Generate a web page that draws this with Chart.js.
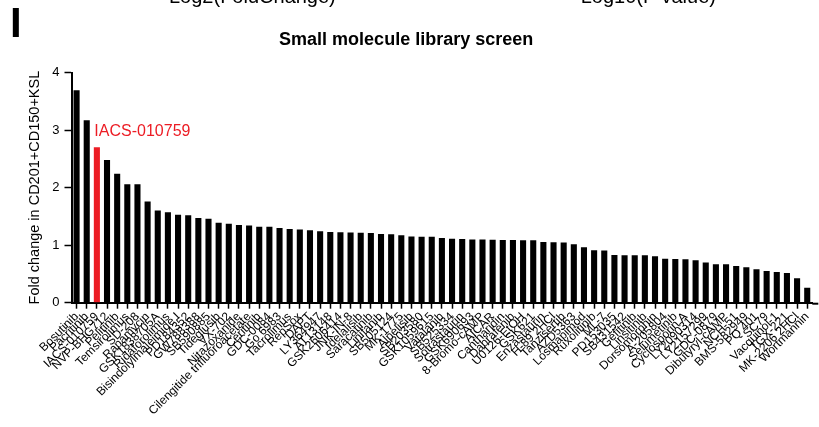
<!DOCTYPE html>
<html>
<head>
<meta charset="utf-8">
<script src="https://cdn.jsdelivr.net/npm/chart.js"></script>
<style>
  body { margin: 0; background: #fff; font-family: "Liberation Sans", Arial, sans-serif; }
  #wrap { position: relative; width: 819px; height: 427px; overflow: hidden; }
  .cut { position: absolute; top: -14px; font-size: 20px; line-height: 20px; color: #000; white-space: nowrap; }
  #panel { position: absolute; left: 10px; top: 0px; font-size: 42px; line-height: 46px; font-weight: bold; }
</style>
</head>
<body>
<div id="wrap">
  <div class="cut" style="left:169px">Log2(FoldChange)</div>
  <div class="cut" style="left:569px">−Log10(P value)</div>
  <div id="panel">I</div>
  <canvas id="screen"></canvas>
</div>
<script>
// compuestos ordenados por fold change
const compuestos = [
  "Bosutinib", "Pacritinib", "IACS-010759", "NVP-BHG712", "Pelitinib",
  "Temsirolimus", "SD-208", "Rapamycin", "GSK1838705A", "Ridaforolimus",
  "Bisindolylmaleimide I", "PD184352", "GW788388", "SB590885", "Tideglusib",
  "VX-702", "Nitazoxanide", "Cilengitide trifluoroacetate", "Ceritinib", "GDC-0084",
  "Go 6983", "Tacrolimus", "RepSox", "DAPT", "LY364947",
  "AT13148", "GSK2606414", "JNK-IN-8", "Idelalisib", "Saracatinib",
  "Linifanib", "SB505124", "MK-1775", "Alpelisib", "SB203580",
  "GSK1059615", "Vatalanib", "SB525334", "Sotrastaurin", "GSK690693",
  "8-Bromo-cAMP", "AICAR", "Cantharidin", "Dabrafenib", "U0126-EtOH",
  "GSK621", "Enzastaurin", "H-89 2HCl", "Tanzisertib", "AZD5363",
  "Losmapimod", "Ruxolitinib", "ML-7", "PD153035", "SB431542",
  "Gefitinib", "Linsitinib", "Dorsomorphin", "A-205804", "Selumetinib",
  "Cyclosporin A", "LY2090314", "LY2157299", "GDC-0879", "Dibutyryl-cAMP",
  "NCH-51", "BMS-582949", "PQ 401", "SC79", "Vacquinol-1",
  "TGX-221", "MK-2206 2HCl", "Wortmannin"
];

const foldChange = [
  3.69, 3.17, 2.70, 2.48, 2.24, 2.06, 2.06, 1.76, 1.60, 1.57,
  1.53, 1.52, 1.47, 1.46, 1.39, 1.37, 1.35, 1.34, 1.32, 1.32,
  1.30, 1.28, 1.27, 1.26, 1.24, 1.23, 1.225, 1.22, 1.215, 1.21,
  1.195, 1.19, 1.17, 1.15, 1.145, 1.145, 1.125, 1.11, 1.105, 1.10,
  1.10, 1.095, 1.09, 1.09, 1.085, 1.085, 1.055, 1.05, 1.045, 1.015,
  0.963, 0.91, 0.905, 0.83, 0.825, 0.825, 0.825, 0.807, 0.765, 0.76,
  0.755, 0.737, 0.70, 0.667, 0.667, 0.638, 0.615, 0.58, 0.55, 0.534,
  0.517, 0.424, 0.26
];

const yTicks = [0, 1, 2, 3, 4];
const destacado = "IACS-010759";

const rojo = "#ec1c24";
const idx = compuestos.indexOf(destacado);
const colores = compuestos.map((c, i) => (i === idx ? rojo : "#000000"));

Chart.defaults.font.family = "'Liberation Sans', Arial, sans-serif";
Chart.defaults.color = "#000";

// etiqueta roja sobre la barra destacada + eje x un poco mas largo
const extras = {
  id: "extras",
  afterDraw(chart) {
    const { ctx, chartArea, scales } = chart;
    ctx.save();
    ctx.strokeStyle = "#000";
    ctx.lineWidth = 2;
    ctx.beginPath();
    ctx.moveTo(chartArea.right, chartArea.bottom + 1);
    ctx.lineTo(chartArea.right + 6, chartArea.bottom + 1);
    ctx.stroke();

    const px = scales.x.getPixelForValue(idx);
    const py = scales.y.getPixelForValue(foldChange[idx]);
    ctx.fillStyle = rojo;
    ctx.font = "16px 'Liberation Sans', Arial, sans-serif";
    ctx.textBaseline = "middle";
    ctx.fillText(destacado, px - 2.5, py - 15.5);
    ctx.restore();
  }
};

new Chart(document.getElementById("screen").getContext("2d"), {
  type: "bar",
  data: {
    labels: compuestos,
    datasets: [
      {
        label: "Fold change",
        data: foldChange,
        backgroundColor: colores,
        barPercentage: 0.6,
        categoryPercentage: 1.0,
      },
    ],
  },
  options: {
    responsive: true,
    maintainAspectRatio: false,
    animation: false,
    layout: {
      padding: { left: 0, right: 6.7, top: 0, bottom: 0 },
    },
    plugins: {
      legend: { display: false },
      tooltip: { enabled: false },
      title: {
        display: true,
        text: "Small molecule library screen",
        font: { size: 18, weight: "bold" },
        color: "#000",
        padding: { top: 29.2, bottom: 21.7 },
      },
    },
    scales: {
      x: {
        grid: {
          offset: false,
          drawOnChartArea: false,
          tickLength: 6,
          tickWidth: 1.5,
          tickColor: "#000",
        },
        border: { color: "#000", width: 2 },
        ticks: {
          autoSkip: false,
          minRotation: 45,
          maxRotation: 45,
          padding: 1,
          font: { size: 12 },
          color: "#000",
        },
        afterFit: (s) => { s.height = 124.3; },
      },
      y: {
        min: 0,
        max: 4,
        afterBuildTicks: (s) => { s.ticks = yTicks.map((v) => ({ value: v })); },
        grid: {
          drawOnChartArea: false,
          tickLength: 7,
          tickWidth: 1.5,
          tickColor: "#000",
        },
        border: { color: "#000", width: 2 },
        ticks: { font: { size: 13 }, color: "#000", padding: 5 },
        title: {
          display: true,
          text: "Fold change in CD201+CD150+KSL",
          font: { size: 14.5 },
          color: "#000",
          padding: { top: 26.3, bottom: 0 },
        },
        afterFit: (s) => { s.width = 71.5; },
      },
    },
  },
  plugins: [extras],
});
</script>
</body>
</html>
